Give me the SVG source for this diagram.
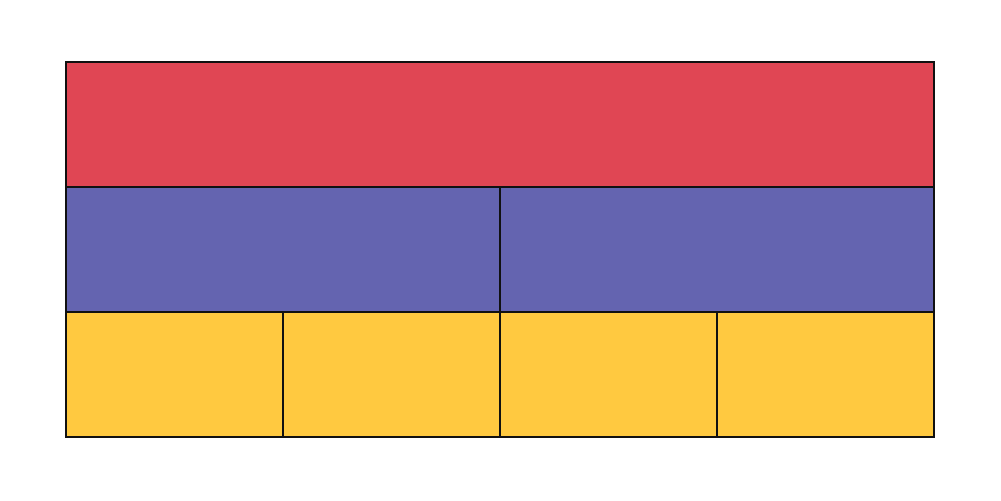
<svg xmlns="http://www.w3.org/2000/svg" width="1001" height="501" viewBox="0 0 1001 501">
<style>
rect{stroke:#111;stroke-width:2}
.r{fill:#e04654}
.b{fill:#6464b0}
.y{fill:#ffc940}
</style>
<rect x="0" y="0" width="1001" height="501" fill="#fff" style="stroke:none"/>
<g id="root"><rect class="r" x="66" y="62" width="868" height="125"/></g>
<g id="n1"><rect class="b" x="66" y="187" width="434" height="125"/></g>
<g id="n2"><rect class="b" x="500" y="187" width="434" height="125"/></g>
<g id="n3"><rect class="y" x="66" y="312" width="217" height="125"/></g>
<g id="n4"><rect class="y" x="283" y="312" width="217" height="125"/></g>
<g id="n5"><rect class="y" x="500" y="312" width="217" height="125"/></g>
<g id="n6"><rect class="y" x="717" y="312" width="217" height="125"/></g>
<g id="connectors"></g>
</svg>
